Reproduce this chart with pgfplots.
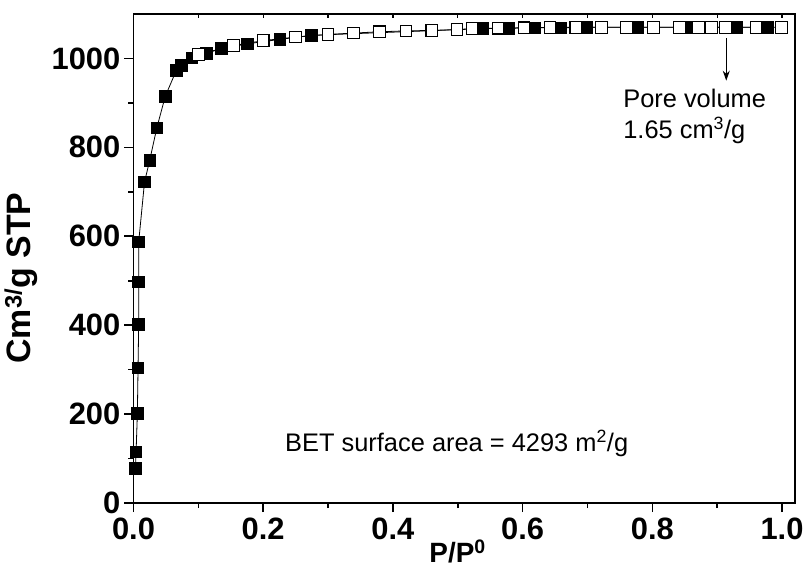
\documentclass[border=0pt]{standalone}
\usepackage{pgfplots}
\pgfplotsset{compat=1.18}
\usetikzlibrary{arrows.meta}
\usepackage{fontspec}
\setmainfont{Liberation Sans}
\begin{document}
\begin{tikzpicture}
\useasboundingbox (-133.5bp,-64bp) rectangle (672.5bp,503bp);
\begin{axis}[
  at={(0,0)}, anchor=south west,
  scale only axis, width=661.5bp, height=489bp,
  xmin=0, xmax=1.02, ymin=0, ymax=1100,
  xtick={0,0.2,0.4,0.6,0.8,1.0},
  ytick={0,200,400,600,800,1000},
  minor x tick num=1, minor y tick num=1,
  xtick pos=left, ytick pos=left,
  tick align=outside,
  major tick length=9bp, minor tick length=5bp,
  every tick/.style={black, line width=1.6bp},
  axis line style={line width=1.6bp},
  /pgf/number format/assume math mode=true,
  xticklabel style={/pgf/number format/fixed, /pgf/number format/fixed zerofill, /pgf/number format/precision=1, inner sep=0pt, yshift=-6bp},
  yticklabel style={/pgf/number format/1000 sep={}, inner sep=0pt, xshift=-4bp},
  ticklabel style={font=\bfseries\fontsize{31}{31}\selectfont},
  scaled x ticks=false,
  xlabel={P/P\textsuperscript{0}},
  ylabel={Cm\textsuperscript{3/}g STP},
  xlabel style={font=\bfseries\fontsize{28}{28}\selectfont, at={(axis description cs:0.49,0)}, anchor=base, yshift=-59.5bp, inner sep=0pt},
  ylabel style={font=\bfseries\fontsize{34}{34}\selectfont, at={(axis description cs:-0.1444,0.46)}, anchor=south, inner sep=0pt},
  clip=false,
]
% adsorption (filled)
\addplot[black, line width=0.8bp, mark=square*, mark size=5.8bp, mark options={solid, fill=black, line width=0.8bp}] coordinates {
(0.003,78) (0.004,115) (0.006,202) (0.007,304) (0.008,402) (0.008,497) (0.008,587)
(0.017,722) (0.025,771) (0.036,844) (0.049,915) (0.066,973) (0.074,984) (0.090,1001)
(0.112,1012) (0.136,1022) (0.176,1033) (0.226,1043) (0.274,1052)
(0.538,1067) (0.579,1068) (0.618,1069) (0.658,1069) (0.698,1070) (0.778,1070)
(0.857,1070) (0.930,1070) (0.978,1070)
};
% desorption (open)
\addplot[black, line width=0.8bp, mark=square*, mark size=5.8bp, mark options={solid, fill=white, draw=black, line width=1.1bp}] coordinates {
(0.999,1070) (0.960,1070) (0.913,1070) (0.891,1070) (0.871,1070) (0.842,1070)
(0.802,1070) (0.760,1070) (0.722,1070) (0.682,1070) (0.642,1070) (0.602,1069)
(0.562,1068) (0.522,1067) (0.499,1065) (0.460,1063) (0.420,1062) (0.379,1060)
(0.339,1057) (0.300,1054) (0.250,1048) (0.200,1040) (0.154,1029) (0.100,1009)
};
\draw[-{Stealth[length=10bp,width=7bp]}, line width=1bp] (axis cs:0.914,1045) -- (axis cs:0.914,950);
\node[anchor=base west, inner sep=0pt, font=\fontsize{25.5}{25.5}\selectfont] at (axis cs:0.755,889) {Pore volume};
\node[anchor=base west, inner sep=0pt, font=\fontsize{25.5}{25.5}\selectfont] at (axis cs:0.755,821) {1.65 cm\textsuperscript{3}/g};
\node[anchor=base west, inner sep=0pt, font=\fontsize{25.5}{25.5}\selectfont] at (axis cs:0.2336,115) {BET surface area = 4293 m\textsuperscript{2}/g};
\end{axis}
\begin{axis}[
  at={(0,0)}, anchor=south west,
  scale only axis, width=661.5bp, height=489bp,
  xmin=0, xmax=1.02, ymin=0, ymax=1100,
  xtick={0,0.1,...,1.0}, xticklabels={},
  ytick=\empty,
  xtick pos=right, tick align=inside,
  major tick length=4bp,
  every tick/.style={black, line width=1.2bp},
  axis line style={line width=1.6bp},
]
\end{axis}
\end{tikzpicture}
\end{document}
